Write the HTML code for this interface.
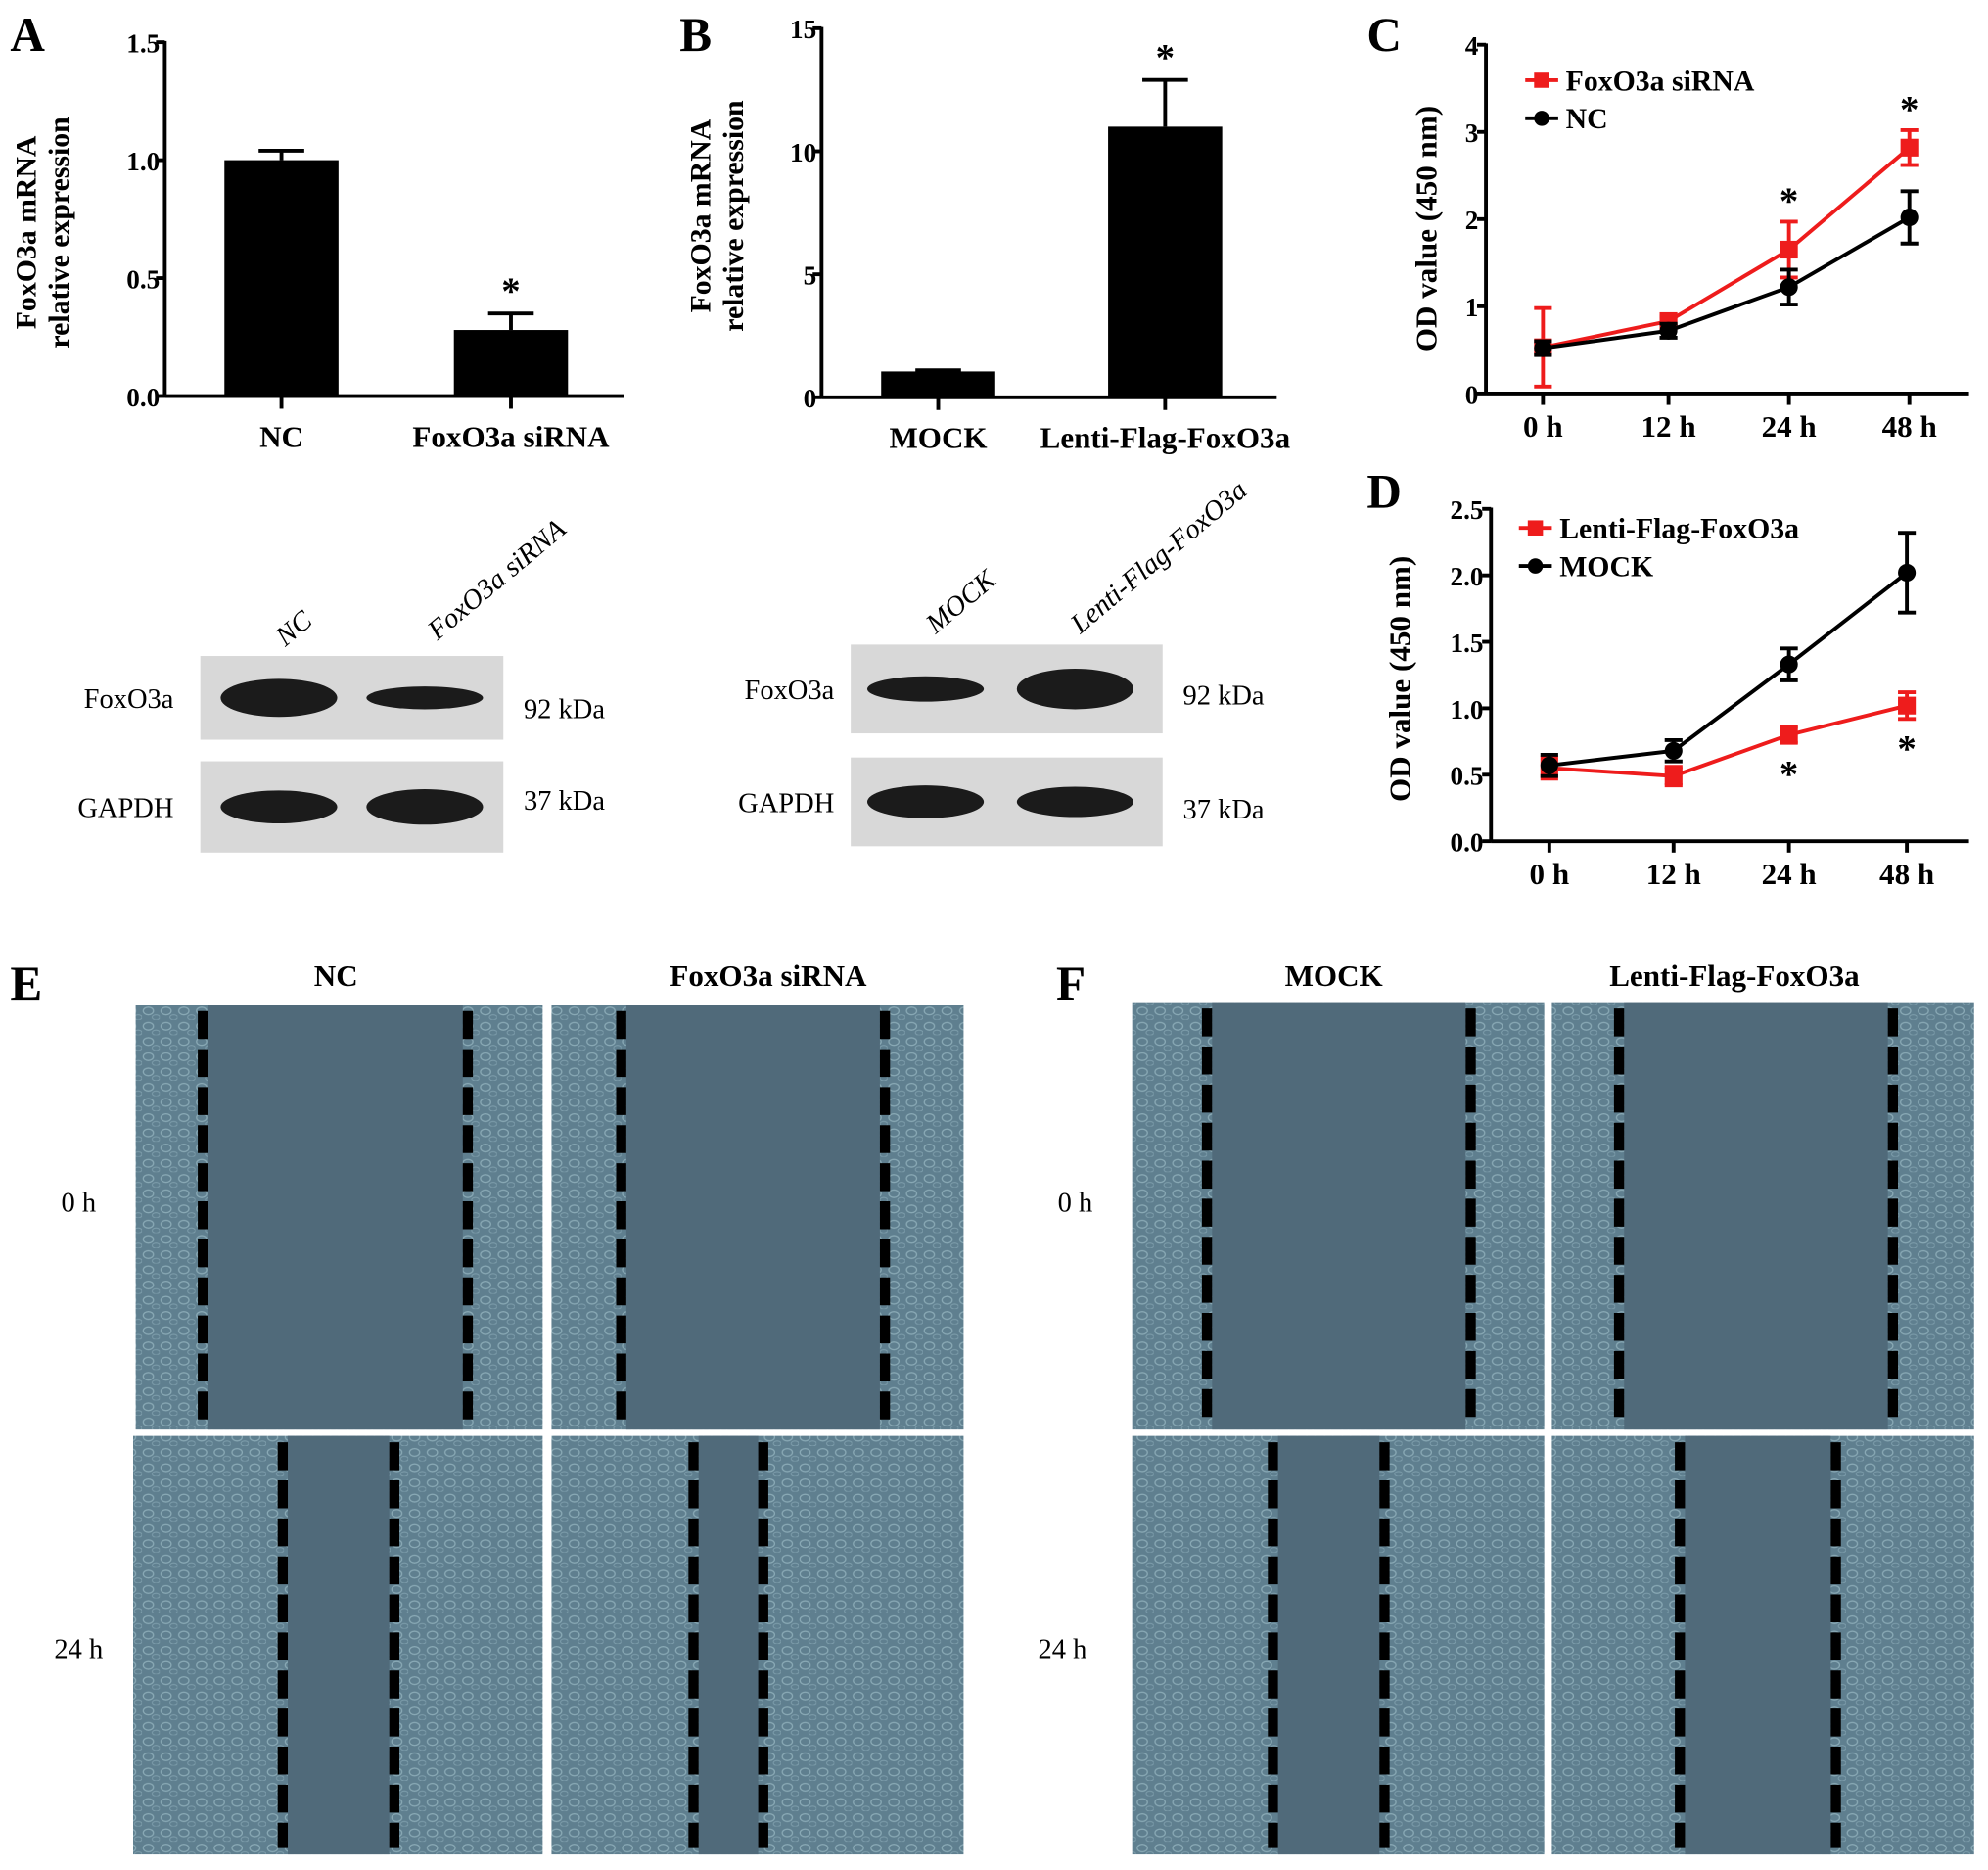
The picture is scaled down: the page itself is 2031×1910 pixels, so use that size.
<!DOCTYPE html>
<html><head><meta charset="utf-8"><style>
html,body{margin:0;padding:0;background:#fff;}
svg{display:block;font-family:"Liberation Serif",serif;}
</style></head><body>
<svg id="fig" width="2031" height="1910" viewBox="0 0 1568 1474" xmlns="http://www.w3.org/2000/svg">
<defs>
<pattern id="cells" width="14" height="12" patternUnits="userSpaceOnUse">
<rect width="14" height="12" fill="#5f7f8f"/>
<ellipse cx="5" cy="5" rx="4" ry="3" fill="none" stroke="#89a9b5" stroke-width="1"/>
<ellipse cx="11" cy="10" rx="3" ry="2" fill="none" stroke="#7d9dab" stroke-width="0.8"/>
</pattern>
</defs>
<g id="layer"></g>
</svg>
<script>
// ---- Data ----
var aCats = ["NC", "FoxO3a siRNA"];
var aVals = [1.0, 0.28];
var aErr = [0.04, 0.07];
var aTicks = ["0.0", "0.5", "1.0", "1.5"];
var bCats = ["MOCK", "Lenti-Flag-FoxO3a"];
var bVals = [1.05, 11.0];
var bErr = [0.05, 1.9];
var bTicks = ["0", "5", "10", "15"];
var timeLabels = ["0 h", "12 h", "24 h", "48 h"];
var cRed = [0.53, 0.83, 1.65, 2.82];
var cRedErr = [0.45, 0.05, 0.32, 0.2];
var cBlack = [0.52, 0.72, 1.22, 2.02];
var cBlackErr = [0.08, 0.08, 0.2, 0.3];
var cTicks = ["0", "1", "2", "3", "4"];
var dRed = [0.55, 0.49, 0.8, 1.02];
var dRedErr = [0.08, 0.07, 0.06, 0.1];
var dBlack = [0.57, 0.68, 1.33, 2.02];
var dBlackErr = [0.08, 0.08, 0.12, 0.3];
var dTicks = ["0.0", "0.5", "1.0", "1.5", "2.0", "2.5"];

var NS = "http://www.w3.org/2000/svg";
var root = document.getElementById("layer");
function el(tag, attrs, parent, txt) {
  var e = document.createElementNS(NS, tag);
  for (var k in attrs) e.setAttribute(k, attrs[k]);
  if (txt !== undefined) e.textContent = txt;
  (parent || root).appendChild(e);
  return e;
}
function grp(name, parent) {
  var g = el("g", {}, parent);
  
  
  return g;
}
function text(g, name, x, y, s, size, opts) {
  opts = opts || {};
  var t = el("text", {x: x, y: y, "font-size": size, "font-weight": opts.w || "bold", "text-anchor": opts.a || "middle", fill: opts.fill || "#000"}, g, s);
  if (opts.rot !== undefined) t.setAttribute("transform", "rotate(" + opts.rot + " " + x + " " + y + ")");
  if (opts.italic) t.setAttribute("font-style", "italic");
  
  
  return t;
}
function line(g, x1, y1, x2, y2, c, w) { return el("line", {x1: x1, y1: y1, x2: x2, y2: y2, stroke: c || "#000", "stroke-width": w || 3}, g); }

// ---- Bar chart ----
function barChart(name, cfg) {
  var g = grp(name);
  var ys = function (v) { return cfg.y0 - (v / cfg.max) * (cfg.y0 - cfg.y1); };
  var ax = grp(name + "-y-axis", g);
  line(ax, cfg.x0, cfg.y1 - 1, cfg.x0, cfg.y0 + 1);
  cfg.ticks.forEach(function (t, i) {
    var v = cfg.max * i / (cfg.ticks.length - 1);
    var y = ys(v);
    line(ax, cfg.x0 - 7, y, cfg.x0, y);
    text(ax, "y-tick-label", cfg.x0 - 4, y + 8, t, 21, {a: "end"});
  });
  var xa = grp(name + "-x-axis", g);
  line(xa, cfg.x0, cfg.y0, cfg.x2, cfg.y0);
  cfg.cats.forEach(function (c, i) {
    var cx = cfg.cx[i];
    line(xa, cx, cfg.y0, cx, cfg.y0 + 10);
    text(xa, "x-tick-label", cx, cfg.y0 + 40, c, 24);
    var top = ys(cfg.vals[i]);
    var b = el("rect", {x: cx - 45, y: top, width: 90, height: cfg.y0 - top, fill: "#000"}, g);
    
    
    var et = ys(cfg.vals[i] + cfg.err[i]);
    line(g, cx, top, cx, et);
    line(g, cx - 18, et, cx + 18, et);
  });
  if (cfg.star !== undefined) {
    var i = cfg.star;
    text(g, "significance-star", cfg.cx[i], ys(cfg.vals[i] + cfg.err[i]) - 8, "*", 30);
  }
  text(g, "y-axis-title", cfg.ytx, cfg.ytc, cfg.yt1, 23, {rot: -90});
  text(g, "y-axis-title-2", cfg.ytx + 26, cfg.ytc, cfg.yt2, 23, {rot: -90});
  text(g, "panel-label", cfg.lx, 40, cfg.label, 38, {a: "start"});
}
barChart("panel-a-chart", {x0: 130, x2: 492, y0: 312, y1: 33, max: 1.5, ticks: aTicks, cats: aCats, vals: aVals, err: aErr, cx: [222, 403], star: 1, ytx: 28, ytc: 183, yt1: "FoxO3a mRNA", yt2: "relative expression", lx: 8, label: "A"});
barChart("panel-b-chart", {x0: 648, x2: 1007, y0: 313, y1: 22, max: 15, ticks: bTicks, cats: bCats, vals: bVals, err: bErr, cx: [740, 919], star: 1, ytx: 560, ytc: 170, yt1: "FoxO3a mRNA", yt2: "relative expression", lx: 536, label: "B"});

// ---- Line chart ----
function lineChart(name, cfg) {
  var g = grp(name);
  var ys = function (v) { return cfg.y0 - (v / cfg.max) * (cfg.y0 - cfg.y1); };
  var ax = grp(name + "-y-axis", g);
  line(ax, cfg.x0, cfg.y1 - 1, cfg.x0, cfg.y0 + 1);
  cfg.ticks.forEach(function (t, i) {
    var y = ys(cfg.max * i / (cfg.ticks.length - 1));
    line(ax, cfg.x0 - 7, y, cfg.x0, y);
    text(ax, "y-tick-label", cfg.x0 - 6, y + 8, t, 21, {a: "end"});
  });
  var xa = grp(name + "-x-axis", g);
  line(xa, cfg.x0, cfg.y0, 1553, cfg.y0);
  timeLabels.forEach(function (t, i) {
    line(xa, cfg.xs[i], cfg.y0, cfg.xs[i], cfg.y0 + 9);
    text(xa, "x-tick-label", cfg.xs[i], cfg.y0 + 34, t, 24);
  });
  cfg.series.forEach(function (s) {
    var sg = grp(name + "-series-" + s.name.toLowerCase().replace(/ /g, '-'), g);
    var pts = s.vals.map(function (v, i) { return cfg.xs[i] + "," + ys(v); }).join(" ");
    el("polyline", {points: pts, fill: "none", stroke: s.color, "stroke-width": 3}, sg);
    s.vals.forEach(function (v, i) {
      var x = cfg.xs[i], hi = ys(v + s.err[i]), lo = ys(v - s.err[i]);
      line(sg, x, hi, x, lo, s.color, 3);
      line(sg, x - 7, hi, x + 7, hi, s.color, 3);
      line(sg, x - 7, lo, x + 7, lo, s.color, 3);
      var m = s.square ? el("rect", {x: x - 7, y: ys(v) - 7, width: 14, height: 14, fill: s.color}, sg) : el("circle", {cx: x, cy: ys(v), r: 7, fill: s.color}, sg);
      
      
    });
  });
  cfg.series.forEach(function (s, k) {
    var lg = grp("legend-entry", g);
    var ly = cfg.ly + k * 30;
    line(lg, cfg.lx, ly, cfg.lx + 26, ly, s.color, 3);
    if (s.square) el("rect", {x: cfg.lx + 7, y: ly - 6, width: 12, height: 12, fill: s.color}, lg);
    else el("circle", {cx: cfg.lx + 13, cy: ly, r: 6, fill: s.color}, lg);
    text(lg, "legend-label", cfg.lx + 32, ly + 8, s.name, 23, {a: "start"});
  });
  cfg.stars.forEach(function (st) { text(g, "significance-star", cfg.xs[st[0]], st[1], "*", 30); });
  text(g, "y-axis-title", cfg.ytx, cfg.ytc, "OD value (450 nm)", 24, {rot: -90});
  text(g, "panel-label", 1078, cfg.lbly, cfg.label, 38, {a: "start"});
}
lineChart("panel-c-chart", {x0: 1172, y0: 310, y1: 35, max: 4, ticks: cTicks, xs: [1217, 1316, 1411, 1506], series: [{name: "FoxO3a siRNA", vals: cRed, err: cRedErr, color: "#ee1c1c", square: true}, {name: "NC", vals: cBlack, err: cBlackErr, color: "#000"}], lx: 1203, ly: 63, stars: [[2, 168], [3, 96]], ytx: 1133, ytc: 180, label: "C", lbly: 40});
lineChart("panel-d-chart", {x0: 1176, y0: 663, y1: 401, max: 2.5, ticks: dTicks, xs: [1222, 1320, 1411, 1504], series: [{name: "Lenti-Flag-FoxO3a", vals: dRed, err: dRedErr, color: "#ee1c1c", square: true}, {name: "MOCK", vals: dBlack, err: dBlackErr, color: "#000"}], lx: 1198, ly: 416, stars: [[2, 620], [3, 600]], ytx: 1112, ytc: 535, label: "D", lbly: 400});

// ---- Western blots ----
function blot(name, b) {
  var g = grp(name);
  [[b.y1, b.h1, b.top, "FoxO3a", "92 kDa", b.ky1], [b.y2, b.h2, b.bot, "GAPDH", "37 kDa", b.ky2]].forEach(function (r, k) {
    var bx = el("rect", {x: b.x, y: r[0], width: b.w, height: r[1], fill: "#d8d8d8"}, g);
    
    
    r[2].forEach(function (band, i) {
      var e = el("ellipse", {cx: b.lanes[i], cy: r[0] + r[1] / 2, rx: 46, ry: band, fill: "#111", opacity: 0.95}, g);
      
      
    });
    text(g, "blot-row-label", b.lblx, r[0] + r[1] / 2 + 8, r[3], 22, {w: "normal", a: "end"});
    text(g, "kda-label", b.x + b.w + 16, r[5], r[4], 22, {w: "normal", a: "start"});
  });
  b.heads.forEach(function (h, i) { text(g, "lane-label", h[1], h[2], h[0], 22, {w: "normal", a: "start", rot: -40, italic: true}); });
}
blot("panel-a-blot", {x: 158, w: 239, y1: 517, h1: 66, y2: 600, h2: 72, lanes: [220, 335], top: [15, 9], bot: [13, 14], lblx: 137, ky1: 566, ky2: 638, heads: [["NC", 225, 510], ["FoxO3a siRNA", 345, 505]]});
blot("panel-b-blot", {x: 671, w: 246, y1: 508, h1: 70, y2: 597, h2: 70, lanes: [730, 848], top: [10, 16], bot: [13, 12], lblx: 658, ky1: 555, ky2: 645, heads: [["MOCK", 738, 500], ["Lenti-Flag-FoxO3a", 852, 500]]});

// ---- Wound images ----
function panelImg(g, x, y, w, h, d1, d2) {
  var ig = grp("wound-image", g);
  el("rect", {x: x, y: y, width: w, height: h, fill: "url(#cells)"}, ig);
  el("rect", {x: d1 + 4, y: y, width: d2 - d1 - 8, height: h, fill: "#506a7a"}, ig);
  [d1, d2].forEach(function (dx) {
    var l = el("line", {x1: dx, y1: y + 5, x2: dx, y2: y + h - 5, stroke: "#000", "stroke-width": 8, "stroke-dasharray": "22 8"}, ig);
    
    
  });
}
var gE = grp("panel-e");
text(gE, "panel-label", 8, 788, "E", 38, {a: "start"});
text(gE, "column-header", 265, 777, "NC", 24);
text(gE, "column-header", 606, 777, "FoxO3a siRNA", 24);
text(gE, "row-label", 62, 955, "0 h", 22, {w: "normal"});
text(gE, "row-label", 62, 1307, "24 h", 22, {w: "normal"});
panelImg(gE, 107, 792, 321, 335, 160, 369);
panelImg(gE, 435, 792, 325, 335, 490, 698);
panelImg(gE, 105, 1132, 323, 330, 223, 311);
panelImg(gE, 435, 1132, 325, 330, 547, 602);
var gF = grp("panel-f");
text(gF, "panel-label", 833, 788, "F", 38, {a: "start"});
text(gF, "column-header", 1052, 777, "MOCK", 24);
text(gF, "column-header", 1368, 777, "Lenti-Flag-FoxO3a", 24);
text(gF, "row-label", 848, 955, "0 h", 22, {w: "normal"});
text(gF, "row-label", 838, 1307, "24 h", 22, {w: "normal"});
panelImg(gF, 893, 790, 325, 337, 952, 1160);
panelImg(gF, 1224, 790, 333, 337, 1277, 1493);
panelImg(gF, 893, 1132, 325, 330, 1004, 1092);
panelImg(gF, 1224, 1132, 333, 330, 1325, 1448);
</script>
</body></html>
